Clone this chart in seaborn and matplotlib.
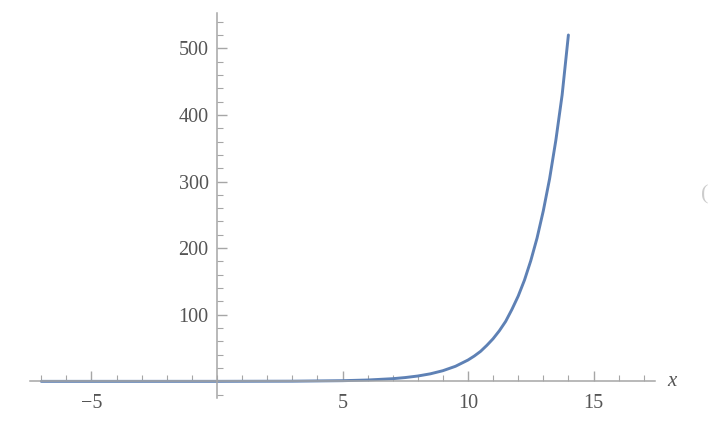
import numpy as np
import pandas as pd
import matplotlib
matplotlib.use("Agg")
import matplotlib.pyplot as plt
import seaborn as sns
from matplotlib.ticker import MultipleLocator, FixedLocator

# values
x_vals = [-7.0, -5.0, 0.0, 3.0, 5.0, 6.0, 7.0, 7.5, 8.0, 8.5, 9.0, 9.5, 10.0,
          10.25, 10.5, 10.75, 11.0, 11.25, 11.5, 11.75, 12.0, 12.25, 12.5,
          12.75, 13.0, 13.25, 13.5, 13.75, 14.0]
y_vals = [0.0, 0.0, 0.03, 0.25, 1.0, 2.0, 4.0, 5.7, 8.0, 11.3, 16.0, 22.6, 32.0,
          38.0, 45.0, 54.0, 64.0, 76.0, 90.0, 108.0, 128.0, 152.0, 181.0,
          215.0, 256.0, 304.0, 362.0, 430.0, 520.0]
x_major = [-5, 5, 10, 15]
y_major = [100, 200, 300, 400, 500]

df = pd.DataFrame({"x": x_vals, "y": y_vals})

sns.set_style("white")
plt.rcParams["font.family"] = ["Liberation Serif", "DejaVu Serif"]

fig = plt.figure(figsize=(7.1, 4.34), dpi=100)
ax = fig.add_axes([30 / 710, 36 / 434, 625 / 710, 385 / 434])

sns.lineplot(data=df, x="x", y="y", ax=ax, color="#5E81B5", linewidth=2.1,
             sort=False, estimator=None)

ax.set_xlim(-7.45, 17.45)
ax.set_ylim(-25, 553)

axis_col = "#a6a6a6"
for side in ["top", "right"]:
    ax.spines[side].set_visible(False)
ax.spines["left"].set_position(("data", 0))
ax.spines["bottom"].set_position(("data", 0))
for side in ["left", "bottom"]:
    ax.spines[side].set_color(axis_col)
    ax.spines[side].set_linewidth(1.1)

ax.xaxis.set_major_locator(FixedLocator(x_major))
ax.xaxis.set_minor_locator(MultipleLocator(1))
ax.yaxis.set_major_locator(FixedLocator(y_major))
ax.yaxis.set_minor_locator(MultipleLocator(20))
ax.set_xticklabels(["\u22125", "5", "10", "15"])
ax.set_yticklabels([str(v) for v in y_major])

ax.tick_params(bottom=True, left=True, which="both")
ax.tick_params(axis="x", which="major", direction="in", length=7, width=1,
               color=axis_col, labelsize=14.5, labelcolor="#555555", pad=9)
ax.tick_params(axis="x", which="minor", direction="in", length=4, width=0.8,
               color=axis_col)
ax.tick_params(axis="y", which="major", direction="in", length=7, width=1,
               color=axis_col, labelsize=14.5, labelcolor="#555555", pad=6)
ax.tick_params(axis="y", which="minor", direction="in", length=4, width=0.8,
               color=axis_col)

ax.set_xlabel("")
ax.set_ylabel("")
ax.text(17.95, 0, "x", fontsize=15, style="italic", color="#555555",
        va="center", ha="left")
fig.text(701 / 710, 1 - 195 / 434, "(", fontsize=16, color="#cccccc",
         va="center", ha="left")

fig.savefig("out.png", dpi=100)
